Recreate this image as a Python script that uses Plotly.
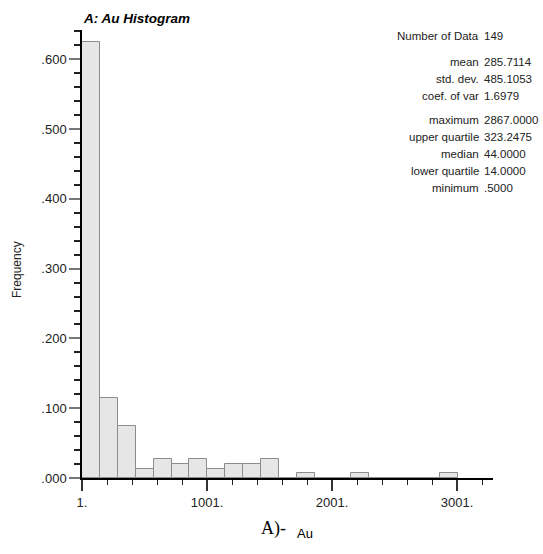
import plotly.graph_objects as go

# Histogram of Au values: 21 class intervals of equal width from the minimum
n_data = 149
counts = [93, 17, 11, 2, 4, 3, 4, 2, 3, 3, 4, 0, 1, 0, 0, 1, 0, 0, 0, 0, 1]
data_min = 0.5
data_max = 2867.0
n_classes = 20

x_tick_vals = [1, 1001, 2001, 3001]
x_tick_text = ["1.", "1001.", "2001.", "3001."]
y_tick_vals = [0.0, 0.1, 0.2, 0.3, 0.4, 0.5, 0.6]
y_tick_text = [".000", ".100", ".200", ".300", ".400", ".500", ".600"]

stat_labels = ["Number of Data", "mean", "std. dev.", "coef. of var",
               "maximum", "upper quartile", "median", "lower quartile", "minimum"]
stat_values = ["149", "285.7114", "485.1053", "1.6979",
               "2867.0000", "323.2475", "44.0000", "14.0000", ".5000"]

bin_width = (data_max - data_min) / n_classes
centers = [data_min + (i + 0.5) * bin_width for i in range(len(counts))]
freqs = [c / n_data for c in counts]

W, H = 543, 554
L, R, T, B = 82, 50, 30, 76
pw, ph = W - L - R, H - T - B

FONT = "Liberation Sans, Arial, sans-serif"

fig = go.Figure()
fig.add_trace(go.Bar(
    x=centers, y=freqs, width=bin_width,
    marker=dict(color="#e6e6e6", line=dict(color="#8c8c8c", width=1)),
    hoverinfo="skip",
))

def px_x(px):
    return (px - L) / pw

def px_y(py):
    return (H - B - py) / ph

annotations = [
    dict(text="<b><i>A: Au Histogram</i></b>", x=px_x(81), y=px_y(18),
         xanchor="left", yanchor="middle",
         font=dict(family=FONT, size=13.5, color="#000")),
    dict(text="Frequency", x=px_x(17), y=px_y(270), textangle=-90,
         xanchor="center", yanchor="middle",
         font=dict(family=FONT, size=12, color="#222")),
]

stat_rows_y = [36, 62, 79, 96, 120, 137, 154, 171, 188]
for lab, val, ry in zip(stat_labels, stat_values, stat_rows_y):
    annotations.append(dict(text=lab, x=px_x(481), y=px_y(ry),
                            xanchor="right", yanchor="middle",
                            font=dict(family=FONT, size=11.5, color="#222")))
    annotations.append(dict(text=val, x=px_x(482), y=px_y(ry),
                            xanchor="left", yanchor="middle",
                            font=dict(family=FONT, size=11.5, color="#222")))

# figure caption below the axis
annotations.append(dict(text="A)-", x=px_x(288), y=px_y(528),
                        xanchor="right", yanchor="middle",
                        font=dict(family="Liberation Serif, Times New Roman, serif",
                                  size=18, color="#000")))
annotations.append(dict(text="Au", x=px_x(295), y=px_y(533),
                        xanchor="left", yanchor="middle",
                        font=dict(family=FONT, size=13, color="#000")))

for a in annotations:
    a.update(xref="paper", yref="paper", showarrow=False)

fig.update_layout(
    width=W, height=H,
    margin=dict(l=L, r=R, t=T, b=B),
    paper_bgcolor="white", plot_bgcolor="white",
    showlegend=False, bargap=0,
    annotations=annotations,
    xaxis=dict(
        range=[1, 1 + pw * 8.0], showgrid=False, zeroline=False,
        showline=True, linecolor="#000", linewidth=2,
        tickmode="array", tickvals=x_tick_vals, ticktext=x_tick_text,
        ticks="outside", ticklen=11, tickwidth=1.5, tickcolor="#333",
        tickfont=dict(family=FONT, size=13, color="#222"),
        minor=dict(tick0=1, dtick=200, ticks="outside", ticklen=5,
                   tickwidth=1.2, tickcolor="#222"),
        fixedrange=True,
    ),
    yaxis=dict(
        range=[0, 0.642], showgrid=False, zeroline=False,
        showline=True, linecolor="#000", linewidth=1.5,
        tickmode="array", tickvals=y_tick_vals, ticktext=y_tick_text,
        ticks="outside", ticklen=11, tickwidth=2, tickcolor="#777",
        tickfont=dict(family=FONT, size=13, color="#222"),
        minor=dict(tick0=0, dtick=0.02, ticks="outside", ticklen=6,
                   tickwidth=1.5, tickcolor="#222"),
        fixedrange=True,
    ),
)

fig.write_html("out.html", config={"displayModeBar": False})
